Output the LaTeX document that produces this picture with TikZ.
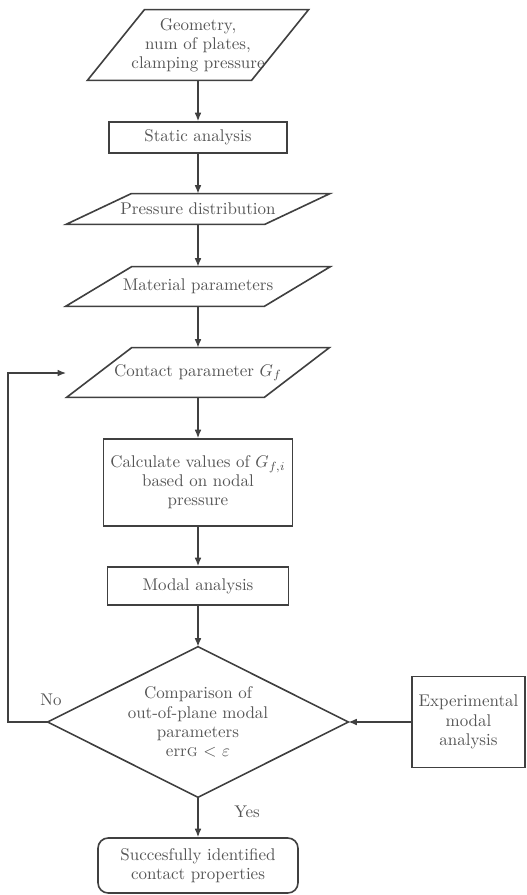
\documentclass[tikz,border=0pt]{standalone}
\usetikzlibrary{arrows.meta}
\definecolor{lineGray}{HTML}{404040}
\definecolor{textGray}{HTML}{555555}

\begin{document}
\begin{tikzpicture}
[x=0.59pt,y=-0.59pt,
  lineDecorate/.style={-{Latex[length=5pt,width=4pt]},line width=0.75pt,draw=lineGray},%
  shapeDecorate/.style={line width=0.95pt,draw=lineGray},%
  textDecorate/.style={text=textGray,align=center,inner sep=0pt,
    font=\fontsize{10}{11.3}\selectfont},%
  sizeDecorate/.style 2 args={minimum width=#1*0.59pt,minimum height=#2*0.59pt},%
  boxDecorate/.style={shape=rectangle,textDecorate,shapeDecorate},%
  ioDecorate/.style={shape=rectangle,textDecorate},%
  endDecorate/.style={boxDecorate,rounded corners=6pt}]
\useasboundingbox (0,0) rectangle (526,895);
%% nodes
\node (geometry) at (198,45) [ioDecorate,sizeDecorate={163.5}{70}]
  {Geometry,\\num of plates,\\clamping pressure};
\node (static) at (198,137.5) [boxDecorate,sizeDecorate={178}{31}] {Static analysis};
\node (pressure) at (198,209) [ioDecorate,sizeDecorate={198}{30}] {Pressure distribution};
\node (material) at (198,286.5) [ioDecorate,sizeDecorate={198}{39}] {Material parameters};
\node (contact) at (198,372.5) [ioDecorate,sizeDecorate={197}{49}] {Contact parameter $G_f$};
\node (calc) at (198,482.5) [boxDecorate,sizeDecorate={189}{87}]
  {Calculate values of $G_{f,i}$\\based on nodal\\pressure};
\node (modal) at (198,586) [boxDecorate,sizeDecorate={181}{38}] {Modal analysis};
\node (compare) at (198,722) [ioDecorate,sizeDecorate={300}{150}]
  {Comparison of\\out-of-plane modal\\parameters\\err\textsc{g} $<$ $\varepsilon$};
\node (experiment) at (468.5,722) [boxDecorate,sizeDecorate={113}{91}]
  {Experimental\\modal\\analysis};
\node (result) at (198,865.5) [endDecorate,sizeDecorate={200}{55}]
  {Succesfully identified\\contact properties};
\node (no) at (51,700) [textDecorate] {No};
\node (yes) at (247,812) [textDecorate] {Yes};
\coordinate (loopDown) at (8,722);
\coordinate (loopUp) at (8,373);
\coordinate (loopEnd) at (66,373);
%% parallelograms and decision
\foreach \nodename/\off in {geometry/28.5, pressure/32.5, material/33, contact/32.5}
{
  \draw[shapeDecorate] ([xshift=\off*0.59pt]\nodename.north west)
    -- ([xshift=\off*0.59pt]\nodename.north east)
    -- ([xshift=-\off*0.59pt]\nodename.south east)
    -- ([xshift=-\off*0.59pt]\nodename.south west) -- cycle;
}
\draw[shapeDecorate] (compare.north) -- (compare.east) -- (compare.south)
  -- (compare.west) -- cycle;
%% edges
\path
\foreach \startnode/\endnode in {geometry/static, static/pressure, pressure/material,
  material/contact, contact/calc, calc/modal, modal/compare, compare/result}
{
  (\startnode.south) edge[lineDecorate] (\endnode.north)
};
\draw[lineDecorate] (experiment.west) -- (compare.east);
\draw[lineDecorate] (compare.west) -- (loopDown) -- (loopUp) -- (loopEnd);
\end{tikzpicture}
\end{document}
